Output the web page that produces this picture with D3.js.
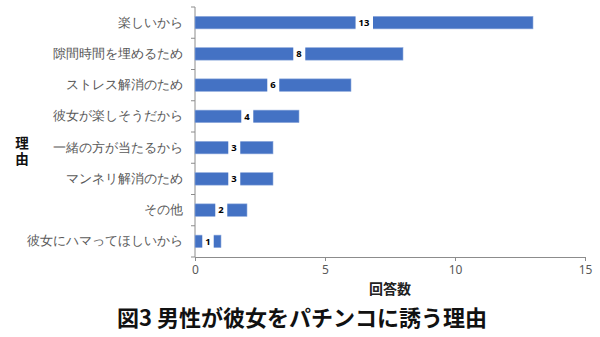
<!DOCTYPE html>
<html><head><meta charset="utf-8">
<script src="https://cdn.jsdelivr.net/npm/d3@7"></script>
<style>
body{margin:0;background:#fff;}
svg{font-family:"Noto Sans CJK JP","Noto Sans",sans-serif;}
</style></head>
<body><svg id="chart" width="600" height="337"></svg>
<script>
const categories = ["楽しいから","隙間時間を埋めるため","ストレス解消のため","彼女が楽しそうだから","一緒の方が当たるから","マンネリ解消のため","その他","彼女にハマってほしいから"];
const counts = [13, 8, 6, 4, 3, 3, 2, 1];
const xTicks = [0, 5, 10, 15];
const title = "図3 男性が彼女をパチンコに誘う理由";
const xTitle = "回答数";
const yTitle = "理由";

const svg = d3.select("#chart");
const plotLeft = 195, plotRight = 585, plotTop = 7, plotBottom = 257;

const x = d3.scaleLinear().domain([0, 15]).range([plotLeft, plotRight]);
const y = d3.scaleBand().domain(categories).range([plotTop, plotBottom]).paddingInner(0.6).paddingOuter(0.3);

// x axis
const xAxis = svg.append("g").attr("transform", `translate(0,${plotBottom})`)
  .call(d3.axisBottom(x).tickValues(xTicks).tickSize(4).tickPadding(4));
xAxis.select(".domain").attr("stroke", "#8c8c8c");
xAxis.selectAll(".tick line").attr("stroke", "#8c8c8c");
xAxis.selectAll("text").attr("fill", "#595959").style("font-size", "12px").style("font-family", "'Noto Sans', sans-serif");

// y axis with category boundaries as ticks
const yAxis = svg.append("g").attr("transform", `translate(${plotLeft},0)`)
  .call(d3.axisLeft(y).tickSize(0).tickPadding(12));
yAxis.select(".domain").attr("stroke", "#8c8c8c").attr("d", `M0,${plotTop}V${plotBottom}`);
yAxis.selectAll("text").attr("fill", "#595959").style("font-size", "12.5px");
const step = (plotBottom - plotTop) / categories.length;
yAxis.selectAll(".bound").data(d3.range(categories.length + 1)).enter()
  .append("line").attr("class", "bound")
  .attr("x1", -4).attr("x2", 0)
  .attr("y1", i => plotTop + i * step).attr("y2", i => plotTop + i * step)
  .attr("stroke", "#8c8c8c");

// bars
svg.append("g").selectAll("rect").data(categories).enter().append("rect")
  .attr("x", x(0))
  .attr("y", (d) => y(d))
  .attr("width", (d, i) => x(counts[i]) - x(0))
  .attr("height", y.bandwidth())
  .attr("fill", "#4472c4")
  .attr("stroke", "#8faadc").attr("stroke-width", 0.6);

// value labels on white boxes at mid-bar
const lab = svg.append("g").selectAll("g").data(categories).enter().append("g")
  .attr("transform", (d, i) => `translate(${x(counts[i] / 2)},${y(d) + y.bandwidth() / 2})`);
lab.append("text")
  .attr("text-anchor", "middle").attr("dy", "0.35em")
  .style("font-size", "9.5px").style("font-weight", "bold")
  .style("font-family", "'Noto Sans', sans-serif")
  .attr("fill", "#000")
  .text((d, i) => counts[i]);
lab.each(function() {
  const g = d3.select(this);
  const bb = g.select("text").node().getBBox();
  g.insert("rect", "text")
    .attr("x", bb.x - 3).attr("width", bb.width + 6)
    .attr("y", -y.bandwidth() / 2 - 1).attr("height", y.bandwidth() + 2)
    .attr("fill", "#fff");
});

// axis titles
svg.append("text").attr("x", (plotLeft + plotRight) / 2).attr("y", 294)
  .attr("text-anchor", "middle").style("font-size", "14px").style("font-weight", "bold")
  .attr("fill", "#222").text(xTitle);
// vertical y title, set upright in vertical writing mode
svg.append("text")
  .attr("x", 22).attr("y", 152)
  .attr("text-anchor", "middle")
  .style("writing-mode", "vertical-rl").style("text-orientation", "upright")
  .style("letter-spacing", "2px")
  .style("font-size", "13.5px").style("font-weight", "bold")
  .attr("fill", "#111").text(yTitle);

// chart title
svg.append("text").attr("x", 302).attr("y", 326)
  .attr("text-anchor", "middle").style("font-size", "22px").style("font-weight", "bold")
  .attr("fill", "#111").text(title);
</script></body></html>
